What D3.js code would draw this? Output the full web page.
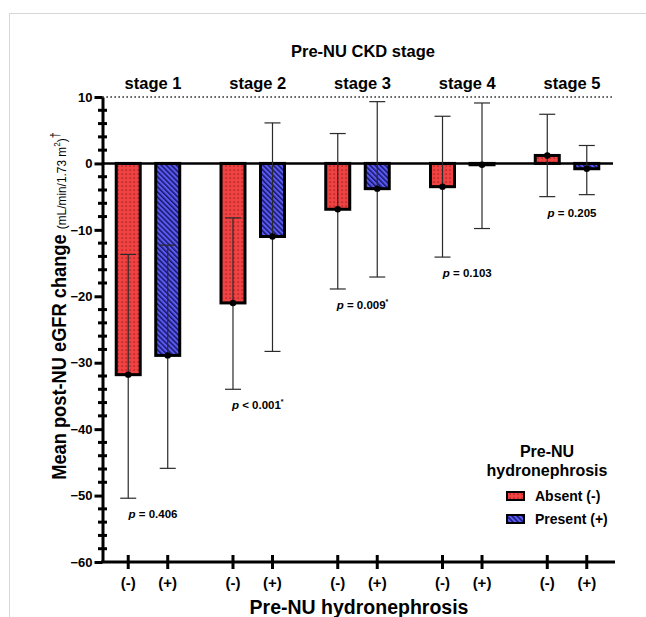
<!DOCTYPE html>
<html>
<head>
<meta charset="utf-8">
<script src="https://cdn.jsdelivr.net/npm/d3@7/dist/d3.min.js"></script>
<style>
  html, body { margin: 0; padding: 0; background: #fff; }
  svg { display: block; font-family: "Liberation Sans", Arial, sans-serif; }
  text { font-weight: bold; fill: #000; }
</style>
</head>
<body>
<svg id="chart" width="646" height="617"></svg>
<script>
// ---------- data ----------
const stages = ["stage 1", "stage 2", "stage 3", "stage 4", "stage 5"];
const groups = ["(-)", "(+)"];
const groupNames = ["Absent (-)", "Present (+)"];
const meanAbsent  = [-31.8, -21.0, -6.9, -3.5, 1.2];
const lowerAbsent = [-50.4, -34.0, -18.9, -14.1, -5.0];
const upperAbsent = [-13.7, -8.2, 4.5, 7.1, 7.4];
const meanPresent  = [-28.9, -11.0, -3.8, -0.2, -0.8];
const lowerPresent = [-45.9, -28.3, -17.1, -9.8, -4.7];
const upperPresent = [-12.3, 6.1, 9.3, 9.1, 2.7];
const pOps    = ["=", "<", "=", "=", "="];
const pValues = ["0.406", "0.001", "0.009", "0.103", "0.205"];
const pSignif = [false, true, true, false, false];
const yTicks = [-60, -50, -40, -30, -20, -10, 0, 10];

// ---------- layout ----------
const svg = d3.select("#chart");
const y = d3.scaleLinear().domain([-60, 10]).range([562, 97]);
const xStage = d3.scaleBand().domain(stages).range([95.6, 619.4]);
const xGroup = d3.scalePoint().domain(groups).range([0, xStage.bandwidth()]).padding(0.826);
const axisX = 102.5, axisRight = 615;
const barW = 24;

const rows = [];
stages.forEach((s, i) => {
  rows.push({stage: s, g: groups[0], mean: meanAbsent[i], lo: lowerAbsent[i], hi: upperAbsent[i], k: 0});
  rows.push({stage: s, g: groups[1], mean: meanPresent[i], lo: lowerPresent[i], hi: upperPresent[i], k: 1});
});
const cx = d => xStage(d.stage) + xGroup(d.g);

// frame
svg.append("rect").attr("x", 9.5).attr("y", 13.5).attr("width", 700).attr("height", 700)
  .attr("fill", "none").attr("stroke", "#d8d8d8").attr("stroke-width", 1);

// patterns
const defs = svg.append("defs");
const pr = defs.append("pattern").attr("id", "redDots").attr("patternUnits", "userSpaceOnUse")
  .attr("width", 4).attr("height", 4);
pr.append("rect").attr("width", 4).attr("height", 4).attr("fill", "#f04242");
pr.append("rect").attr("x", 1.5).attr("y", 1.5).attr("width", 1.2).attr("height", 1.2).attr("fill", "#8a1515");
const pb = defs.append("pattern").attr("id", "blueStripes").attr("patternUnits", "userSpaceOnUse")
  .attr("width", 3.6).attr("height", 3.6).attr("patternTransform", "rotate(-45)");
pb.append("rect").attr("width", 3.6).attr("height", 3.6).attr("fill", "#5a5af0");
pb.append("rect").attr("x", 0).attr("width", 1.5).attr("height", 3.6).attr("fill", "#16166a");
const fills = ["url(#redDots)", "url(#blueStripes)"];

// dotted line at 10
svg.append("line").attr("x1", axisX).attr("x2", 612).attr("y1", y(10)).attr("y2", y(10))
  .attr("stroke", "#000").attr("stroke-width", 1.3).attr("stroke-dasharray", "1.3,2.7");

// bars
svg.append("g").selectAll("rect").data(rows).join("rect")
  .attr("x", d => cx(d) - barW / 2)
  .attr("width", barW)
  .attr("y", d => y(Math.max(0, d.mean)))
  .attr("height", d => Math.abs(y(d.mean) - y(0)))
  .attr("fill", d => fills[d.k])
  .attr("stroke", "#000").attr("stroke-width", 3);

// zero line
svg.append("line").attr("x1", axisX).attr("x2", 613).attr("y1", y(0)).attr("y2", y(0))
  .attr("stroke", "#000").attr("stroke-width", 2.6);

// error bars
const eb = svg.append("g").attr("stroke", "#2a2a2a").attr("stroke-width", 1.2);
eb.selectAll(".v").data(rows).join("line")
  .attr("x1", cx).attr("x2", cx).attr("y1", d => y(d.hi)).attr("y2", d => y(d.lo));
eb.selectAll(".ch").data(rows).join("line")
  .attr("x1", d => cx(d) - 8).attr("x2", d => cx(d) + 8).attr("y1", d => y(d.hi)).attr("y2", d => y(d.hi));
eb.selectAll(".cl").data(rows).join("line")
  .attr("x1", d => cx(d) - 8).attr("x2", d => cx(d) + 8).attr("y1", d => y(d.lo)).attr("y2", d => y(d.lo));
svg.append("g").selectAll("circle").data(rows).join("circle")
  .attr("cx", cx).attr("cy", d => y(d.mean)).attr("r", 3.2).attr("fill", "#000");

// y axis
const yAxis = svg.append("g").attr("transform", `translate(${axisX},0)`)
  .call(d3.axisLeft(y).tickValues(yTicks).tickSize(8).tickSizeOuter(0).tickPadding(2));
yAxis.select(".domain").attr("stroke-width", 3);
yAxis.selectAll(".tick line").attr("stroke-width", 3);
yAxis.selectAll(".tick text").style("font-size", "13px").style("font-weight", "bold")
  .style("font-family", "'Liberation Sans', Arial, sans-serif");
const minor = d3.range(-58, 10, 2).filter(v => v % 10 !== 0);
svg.append("g").selectAll("line").data(minor).join("line")
  .attr("x1", axisX - 4.5).attr("x2", axisX + 4.5).attr("y1", d => y(d)).attr("y2", d => y(d))
  .attr("stroke", "#000").attr("stroke-width", 3);

// x axis
svg.append("line").attr("x1", axisX - 1.5).attr("x2", axisRight).attr("y1", y(-60)).attr("y2", y(-60))
  .attr("stroke", "#000").attr("stroke-width", 3);
svg.append("g").selectAll("line").data(rows).join("line")
  .attr("x1", cx).attr("x2", cx).attr("y1", y(-60) - 7).attr("y2", y(-60) + 7)
  .attr("stroke", "#000").attr("stroke-width", 3);
svg.append("g").selectAll("text").data(rows).join("text")
  .attr("x", cx).attr("y", 588).attr("text-anchor", "middle")
  .style("font-size", "15px").text(d => d.g);

// x title
svg.append("text").attr("x", 359).attr("y", 614).attr("text-anchor", "middle")
  .style("font-size", "19.5px").text("Pre-NU hydronephrosis");

// top titles
svg.append("text").attr("x", 363).attr("y", 57).attr("text-anchor", "middle")
  .style("font-size", "16.5px").text("Pre-NU CKD stage");
svg.append("g").selectAll("text").data(stages).join("text")
  .attr("x", s => xStage(s) + xStage.bandwidth() / 2 + 5).attr("y", 89).attr("text-anchor", "middle")
  .style("font-size", "16.5px").text(s => s);

// p labels
stages.forEach((s, i) => {
  const minLo = Math.min(lowerAbsent[i], lowerPresent[i]);
  const t = svg.append("text")
    .attr("x", xStage(s) + xStage.bandwidth() / 2 + 5)
    .attr("y", y(minLo) + 20).attr("text-anchor", "middle").style("font-size", "11.5px");
  t.append("tspan").style("font-style", "italic").text("p");
  t.append("tspan").text(" " + pOps[i] + " " + pValues[i]);
  if (pSignif[i]) t.append("tspan").attr("dy", -5).style("font-size", "7px").text("*");
});

// y title
const yt = svg.append("g").attr("transform", "translate(66,306) rotate(-90)");
const ytText = yt.append("text").attr("text-anchor", "middle");
ytText.append("tspan").style("font-size", "20px").text("Mean post-NU eGFR change ");
ytText.append("tspan").style("font-size", "13px").style("font-weight", "normal").text("(mL/min/1.73 m");
ytText.append("tspan").attr("dy", -6).style("font-size", "9px").style("font-weight", "normal").text("2");
ytText.append("tspan").attr("dy", 6).style("font-size", "13px").style("font-weight", "normal").text(")");
ytText.append("tspan").attr("dy", -7).style("font-size", "12px").style("font-weight", "normal").text("\u2020");
const len = ytText.node().getComputedTextLength();
const targetLen = 348;
yt.attr("transform", `translate(66,306) rotate(-90) scale(${targetLen / len},1)`);

// legend
const lg = svg.append("g");
lg.append("text").attr("x", 547).attr("y", 457).attr("text-anchor", "middle").style("font-size", "16px").text("Pre-NU");
lg.append("text").attr("x", 547).attr("y", 476).attr("text-anchor", "middle").style("font-size", "16px").text("hydronephrosis");
groupNames.forEach((g, i) => {
  const yy = 496 + i * 23;
  lg.append("rect").attr("x", 507).attr("y", yy - 4).attr("width", 17).attr("height", 8)
    .attr("fill", fills[i]).attr("stroke", "#000").attr("stroke-width", 2);
  lg.append("text").attr("x", 535).attr("y", yy + 5).style("font-size", "14px").text(g);
});
</script>
</body>
</html>
